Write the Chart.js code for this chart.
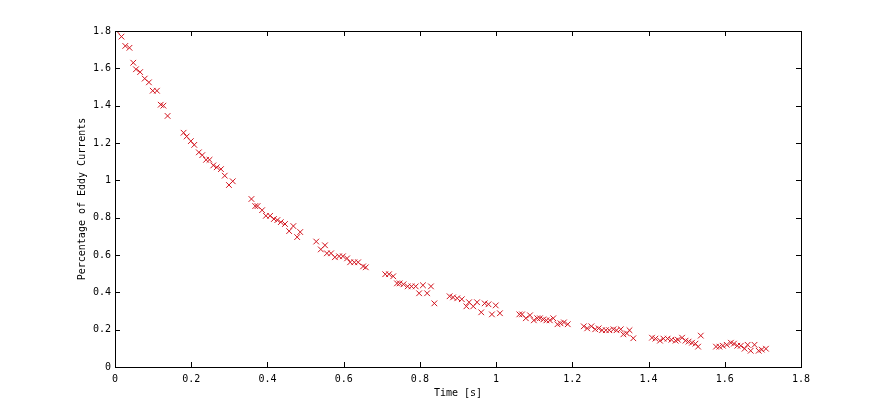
<!DOCTYPE html>
<html>
<head>
<meta charset="utf-8">
<title>Eddy currents decay</title>
<script src="https://cdn.jsdelivr.net/npm/chart.js@4/dist/chart.umd.min.js"></script>
<style>
  html, body { margin: 0; padding: 0; background: #fff; }
  #wrap { width: 885px; height: 414px; position: relative; }
</style>
</head>
<body>
<div id="wrap"><canvas id="decayChart"></canvas></div>
<script>
const timeS = [
  0.004, 0.017, 0.027, 0.038, 0.048, 0.055, 0.066, 0.078, 0.089, 0.099, 0.110, 0.120, 0.127, 0.138,
  0.180, 0.188, 0.199, 0.208, 0.220, 0.229, 0.239, 0.248, 0.258, 0.267, 0.278, 0.288, 0.299, 0.309,
  0.358, 0.368, 0.374, 0.386, 0.396, 0.407, 0.417, 0.426, 0.435, 0.446, 0.457, 0.468, 0.478, 0.486,
  0.528, 0.540, 0.551, 0.556, 0.567, 0.577, 0.588, 0.598, 0.609, 0.617, 0.628, 0.638, 0.651, 0.658,
  0.709, 0.719, 0.730, 0.740, 0.747, 0.757, 0.768, 0.778, 0.789, 0.798, 0.808, 0.819, 0.829, 0.838,
  0.878, 0.887, 0.898, 0.910, 0.922, 0.929, 0.940, 0.950, 0.961, 0.970, 0.980, 0.989, 0.999, 1.010,
  1.061, 1.068, 1.078, 1.089, 1.099, 1.108, 1.115, 1.124, 1.132, 1.141, 1.150, 1.161, 1.169, 1.178, 1.188,
  1.230, 1.239, 1.250, 1.260, 1.269, 1.278, 1.288, 1.297, 1.308, 1.316, 1.327, 1.334, 1.343, 1.350, 1.360,
  1.409, 1.418, 1.430, 1.439, 1.450, 1.460, 1.471, 1.477, 1.488, 1.497, 1.505, 1.514, 1.523, 1.530, 1.537,
  1.577, 1.586, 1.595, 1.605, 1.616, 1.624, 1.633, 1.642, 1.652, 1.660, 1.668, 1.678, 1.689, 1.697, 1.708
];
const eddyPct = [
  1.800, 1.770, 1.720, 1.710, 1.630, 1.595, 1.580, 1.545, 1.525, 1.480, 1.480, 1.405, 1.400, 1.345,
  1.255, 1.235, 1.210, 1.190, 1.150, 1.135, 1.110, 1.110, 1.080, 1.070, 1.060, 1.025, 0.975, 0.995,
  0.900, 0.862, 0.862, 0.840, 0.810, 0.810, 0.793, 0.787, 0.776, 0.766, 0.728, 0.755, 0.696, 0.723,
  0.672, 0.630, 0.652, 0.609, 0.609, 0.588, 0.593, 0.593, 0.582, 0.561, 0.561, 0.561, 0.539, 0.534,
  0.497, 0.497, 0.486, 0.448, 0.448, 0.443, 0.432, 0.432, 0.432, 0.395, 0.438, 0.395, 0.432, 0.341,
  0.379, 0.373, 0.368, 0.363, 0.325, 0.347, 0.325, 0.347, 0.293, 0.341, 0.336, 0.282, 0.330, 0.288,
  0.282, 0.282, 0.261, 0.277, 0.250, 0.261, 0.261, 0.255, 0.250, 0.250, 0.261, 0.229, 0.234, 0.239, 0.229,
  0.218, 0.207, 0.218, 0.202, 0.207, 0.197, 0.197, 0.197, 0.202, 0.197, 0.202, 0.175, 0.180, 0.197, 0.154,
  0.157, 0.152, 0.141, 0.152, 0.152, 0.146, 0.141, 0.146, 0.157, 0.141, 0.136, 0.130, 0.125, 0.109, 0.168,
  0.109, 0.109, 0.114, 0.119, 0.130, 0.125, 0.114, 0.114, 0.098, 0.119, 0.087, 0.119, 0.087, 0.093, 0.098
];
const xLabel = 'Time [s]';
const yLabel = 'Percentage of Eddy Currents';
const axisMin = 0;
const axisMax = 1.8;
const axisStep = 0.2;

Chart.defaults.font.family = "'DejaVu Sans Mono', monospace";
Chart.defaults.font.size = 10;
Chart.defaults.color = '#000';

const points = timeS.map((t, i) => ({ x: t, y: eddyPct[i] }));

// "1" not "1.0", like octave prints them
const shortNum = v => String(Number(v.toFixed(2)));

// octave style box with inward ticks on all four sides
const boxTicks = {
  id: 'boxTicks',
  afterDatasetsDraw(chart) {
    const { ctx, chartArea: a, scales } = chart;
    const len = 5;
    ctx.save();
    ctx.strokeStyle = '#000';
    ctx.lineWidth = 1;
    ctx.beginPath();
    scales.x.ticks.forEach(t => {
      const px = Math.round(scales.x.getPixelForValue(t.value)) + 0.5;
      ctx.moveTo(px, a.bottom); ctx.lineTo(px, a.bottom - len);
      ctx.moveTo(px, a.top); ctx.lineTo(px, a.top + len);
    });
    scales.y.ticks.forEach(t => {
      const py = Math.round(scales.y.getPixelForValue(t.value)) + 0.5;
      ctx.moveTo(a.left, py); ctx.lineTo(a.left + len, py);
      ctx.moveTo(a.right, py); ctx.lineTo(a.right - len, py);
    });
    ctx.stroke();
    ctx.strokeRect(Math.round(a.left) + 0.5, Math.round(a.top) + 0.5,
      Math.round(a.right - a.left), Math.round(a.bottom - a.top));
    ctx.restore();
  }
};

new Chart(document.getElementById('decayChart'), {
  type: 'scatter',
  data: {
    datasets: [{
      label: yLabel,
      data: points,
      pointStyle: 'crossRot',
      pointRadius: 4,
      pointHoverRadius: 4,
      borderWidth: 1,
      borderColor: 'rgb(210,20,30)',
      backgroundColor: 'rgb(210,20,30)'
    }]
  },
  options: {
    responsive: true,
    maintainAspectRatio: false,
    animation: false,
    layout: { padding: { left: 75, top: 31, right: 84, bottom: 11 } },
    plugins: { legend: { display: false }, tooltip: { enabled: false } },
    scales: {
      x: {
        type: 'linear',
        min: axisMin,
        max: axisMax,
        grid: { display: false, drawTicks: false },
        border: { display: false },
        ticks: { stepSize: axisStep, padding: 6, maxRotation: 0, callback: shortNum },
        title: { display: true, text: xLabel, padding: { top: 2, bottom: 4 } },
        afterFit(scale) { scale.height = 36; }
      },
      y: {
        type: 'linear',
        min: axisMin,
        max: axisMax,
        grid: { display: false, drawTicks: false },
        border: { display: false },
        ticks: { stepSize: axisStep, padding: 4, callback: shortNum },
        title: { display: true, text: yLabel, padding: { top: 1, bottom: 2 } },
        afterFit(scale) { scale.width = 40; }
      }
    }
  },
  plugins: [boxTicks]
});
</script>
</body>
</html>
